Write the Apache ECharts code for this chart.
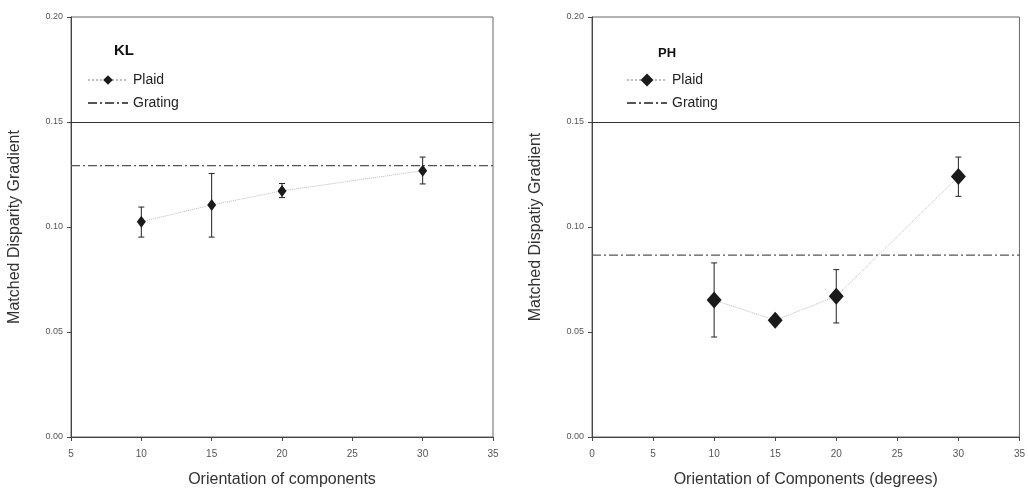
<!DOCTYPE html>
<html>
<head>
<meta charset="utf-8">
<script src="https://cdn.jsdelivr.net/npm/echarts@6/dist/echarts.min.js"></script>
<style>
  html, body { margin: 0; padding: 0; background: #fff; }
  #chart { width: 1028px; height: 493px; }
</style>
</head>
<body>
<div id="chart"></div>
<script>
// Orientation of the plaid components (degrees)
const orientations = [10, 15, 20, 30];

// Observer KL: matched disparity gradient, with error bar limits
const klPlaid = [0.1025, 0.1105, 0.1172, 0.1268];
const klLow   = [0.0952, 0.0952, 0.1140, 0.1205];
const klHigh  = [0.1095, 0.1255, 0.1207, 0.1333];
const klGrating = 0.1292;

// Observer PH
const phPlaid = [0.0652, 0.0556, 0.0670, 0.1240];
const phLow   = [0.0476, 0.0556, 0.0543, 0.1146];
const phHigh  = [0.0829, 0.0556, 0.0797, 0.1333];
const phGrating = 0.0866;

// Reference level drawn across both panels
const refLevel = 0.15;

// Axis tick values
const yTicks = [0.00, 0.05, 0.10, 0.15, 0.20];
const klXRange = [5, 35];
const phXRange = [0, 35];

const FONT = 'Liberation Sans, Arial, sans-serif';

function pairs(xs, ys) { return xs.map((x, i) => [x, ys[i]]); }
function errData(xs, lo, hi) { return xs.map((x, i) => [x, lo[i], hi[i]]); }

function errorBars(xIdx, data) {
  return {
    type: 'custom',
    xAxisIndex: xIdx, yAxisIndex: xIdx,
    silent: true,
    z: 3,
    renderItem: function (params, api) {
      const x = api.value(0);
      const lo = api.coord([x, api.value(1)]);
      const hi = api.coord([x, api.value(2)]);
      const cap = 3;
      const style = { stroke: '#222', lineWidth: 1, fill: null };
      return {
        type: 'group',
        children: [
          { type: 'line', shape: { x1: lo[0], y1: lo[1], x2: hi[0], y2: hi[1] }, style },
          { type: 'line', shape: { x1: lo[0] - cap, y1: lo[1], x2: lo[0] + cap, y2: lo[1] }, style },
          { type: 'line', shape: { x1: hi[0] - cap, y1: hi[1], x2: hi[0] + cap, y2: hi[1] }, style }
        ]
      };
    },
    data: data
  };
}

function xAxisCfg(idx, range, name) {
  return {
    type: 'value', gridIndex: idx, min: range[0], max: range[1], interval: 5,
    name: name, nameLocation: 'middle', nameGap: 35,
    nameTextStyle: { fontFamily: FONT, fontSize: 16, color: '#333' },
    axisLine: { show: true, lineStyle: { color: '#444', width: 1 } },
    axisTick: { show: true, inside: false, length: 4, lineStyle: { color: '#444' } },
    axisLabel: { fontFamily: FONT, fontSize: 10, color: '#555', margin: 12 },
    splitLine: { show: false }
  };
}

function yAxisCfg(idx, name) {
  return {
    type: 'value', gridIndex: idx, min: yTicks[0], max: yTicks[yTicks.length - 1], interval: 0.05,
    name: name, nameLocation: 'middle', nameGap: 48,
    nameTextStyle: { fontFamily: FONT, fontSize: 16, color: '#333' },
    axisLine: { show: true, lineStyle: { color: '#444', width: 1 } },
    axisTick: { show: true, inside: false, length: 4, lineStyle: { color: '#444' } },
    axisLabel: { fontFamily: FONT, fontSize: 9, color: '#555', margin: 8,
      formatter: v => v.toFixed(2) },
    splitLine: { show: false }
  };
}

function plaidSeries(idx, name, values, size) {
  return {
    name: name, type: 'line', xAxisIndex: idx, yAxisIndex: idx,
    data: pairs(orientations, values),
    symbol: 'diamond', symbolSize: size,
    itemStyle: { color: '#1a1a1a' },
    lineStyle: { color: '#bdbdbd', width: 1, type: 'dotted' },
    z: 4
  };
}

function gratingSeries(idx, name, level, range) {
  return {
    name: name, type: 'line', xAxisIndex: idx, yAxisIndex: idx,
    data: [[range[0], level], [range[1], level]],
    symbol: 'none',
    itemStyle: { color: '#555' },
    lineStyle: { color: '#555', width: 1.2, type: [9, 3, 2, 3] },
    markLine: {
      silent: true, symbol: 'none', label: { show: false },
      lineStyle: { color: '#333', width: 1, type: 'solid' },
      data: [{ yAxis: refLevel }]
    },
    z: 2
  };
}

function legendCfg(left, names, iconH) {
  return {
    orient: 'vertical', left: left, top: 68, itemGap: 9,
    itemWidth: 40, itemHeight: iconH,
    selectedMode: false,
    textStyle: { fontFamily: FONT, fontSize: 14, color: '#222' },
    formatter: n => n.split(' ').pop(),
    data: [
      { name: names[0] },
      { name: names[1], itemStyle: { color: 'rgba(0,0,0,0)', borderWidth: 0 } }
    ]
  };
}

const chart = echarts.init(document.getElementById('chart'), null, { renderer: 'canvas' });
chart.setOption({
  animation: false,
  backgroundColor: '#fff',
  grid: [
    { left: 71, right: 535, top: 17, bottom: 56, show: true, borderColor: '#666', borderWidth: 1 },
    { left: 592, right: 8, top: 17, bottom: 56, show: true, borderColor: '#666', borderWidth: 1 }
  ],
  title: [
    { text: 'KL', left: 109, top: 38, textStyle: { fontFamily: FONT, fontSize: 15, fontWeight: 'bold', color: '#111' } },
    { text: 'PH', left: 653, top: 42, textStyle: { fontFamily: FONT, fontSize: 13, fontWeight: 'bold', color: '#111' } }
  ],
  legend: [
    legendCfg(82, ['KL Plaid', 'KL Grating'], 12),
    legendCfg(621, ['PH Plaid', 'PH Grating'], 16)
  ],
  xAxis: [
    xAxisCfg(0, klXRange, 'Orientation of components'),
    xAxisCfg(1, phXRange, 'Orientation of Components (degrees)')
  ],
  yAxis: [
    yAxisCfg(0, 'Matched Disparity Gradient'),
    yAxisCfg(1, 'Matched Dispatiy Gradient')
  ],
  series: [
    gratingSeries(0, 'KL Grating', klGrating, klXRange),
    plaidSeries(0, 'KL Plaid', klPlaid, [9, 12]),
    errorBars(0, errData(orientations, klLow, klHigh)),
    gratingSeries(1, 'PH Grating', phGrating, phXRange),
    plaidSeries(1, 'PH Plaid', phPlaid, [15, 17]),
    errorBars(1, errData(orientations, phLow, phHigh))
  ]
});
</script>
</body>
</html>
